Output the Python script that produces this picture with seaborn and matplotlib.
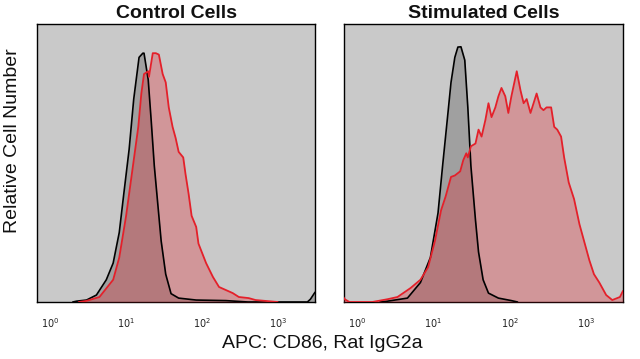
import numpy as np
import pandas as pd
import matplotlib
matplotlib.use("Agg")
import matplotlib.pyplot as plt
import seaborn as sns
from matplotlib.ticker import FixedLocator, FixedFormatter, NullLocator

# ---------------- data (log10 intensity, relative count) ----------------
ctrl_iso_log = [0.30, 0.35, 0.48, 0.61, 0.74, 0.83, 0.91, 0.97, 1.04, 1.10, 1.17, 1.22, 1.235,
                1.29, 1.33, 1.37, 1.42, 1.46, 1.52, 1.59, 1.69, 1.92, 2.31, 2.60, 3.38, 3.42, 3.48]
ctrl_iso_val = [0.0, 0.003, 0.007, 0.025, 0.08, 0.14, 0.25, 0.39, 0.55, 0.73, 0.88, 0.895, 0.895,
                0.80, 0.65, 0.49, 0.34, 0.22, 0.10, 0.03, 0.014, 0.007, 0.005, 0.0, 0.0, 0.01, 0.035]

ctrl_ab_log = [0.38, 0.48, 0.65, 0.83, 0.91, 1.00, 1.09, 1.16, 1.20, 1.235, 1.29, 1.30, 1.35, 1.39,
               1.43, 1.48, 1.52, 1.56, 1.61, 1.65, 1.69, 1.75, 1.78, 1.82, 1.86, 1.92, 1.95,
               2.05, 2.14, 2.22, 2.31, 2.40, 2.48, 2.61, 2.70, 2.99]
ctrl_ab_val = [0.0, 0.004, 0.018, 0.08, 0.16, 0.31, 0.49, 0.63, 0.75, 0.82, 0.83, 0.81, 0.895, 0.895,
               0.89, 0.82, 0.79, 0.70, 0.63, 0.59, 0.54, 0.52, 0.46, 0.39, 0.31, 0.27, 0.21,
               0.14, 0.09, 0.054, 0.043, 0.032, 0.018, 0.014, 0.007, 0.0]

stim_iso_log = [0.30, 0.40, 0.66, 0.83, 0.96, 1.06, 1.12, 1.19, 1.23, 1.28, 1.32, 1.36, 1.41,
                1.45, 1.49, 1.55, 1.59, 1.65, 1.72, 1.85, 2.02, 2.10]
stim_iso_val = [0.0, 0.003, 0.014, 0.07, 0.16, 0.32, 0.49, 0.68, 0.79, 0.88, 0.917, 0.918, 0.87,
                0.70, 0.49, 0.295, 0.18, 0.08, 0.032, 0.014, 0.005, 0.0]

stim_ab_log = [-0.21, -0.16, -0.10, 0.20, 0.40, 0.53, 0.70, 0.83, 0.93, 1.02, 1.10, 1.16, 1.23, 1.28,
               1.35, 1.39, 1.43, 1.45, 1.49, 1.55, 1.59, 1.63, 1.68, 1.72, 1.76, 1.81, 1.85,
               1.89, 1.94, 1.98, 2.02, 2.09, 2.14, 2.18, 2.22, 2.27, 2.31, 2.35, 2.40, 2.44,
               2.48, 2.54, 2.58, 2.62, 2.67, 2.71, 2.77, 2.84, 2.91, 2.97, 3.04, 3.10, 3.17,
               3.26, 3.34, 3.44, 3.48]
stim_ab_val = [0.03, 0.01, 0.0, 0.0, 0.01, 0.018, 0.05, 0.08, 0.125, 0.22, 0.33, 0.38, 0.45, 0.455,
               0.47, 0.51, 0.535, 0.52, 0.56, 0.57, 0.62, 0.595, 0.655, 0.715, 0.665, 0.70, 0.74,
               0.77, 0.74, 0.68, 0.74, 0.83, 0.76, 0.715, 0.73, 0.68, 0.715, 0.75, 0.70, 0.69,
               0.70, 0.70, 0.63, 0.62, 0.595, 0.52, 0.43, 0.37, 0.28, 0.22, 0.15, 0.10, 0.07,
               0.025, 0.007, 0.018, 0.04]

panel_titles = ["Control Cells", "Stimulated Cells"]
tick_values = [1, 10, 100, 1000]
tick_labels = [r"$10^{0}$", r"$10^{1}$", r"$10^{2}$", r"$10^{3}$"]
x_label = "APC: CD86, Rat IgG2a"
y_label = "Relative Cell Number"

# ---------------- figure ----------------
sns.set_theme(style="white")
plt.rcParams["font.family"] = ["Liberation Sans", "DejaVu Sans"]

fig = plt.figure(figsize=(6.4, 3.59), dpi=100)
W, H = 640, 359
axes = [
    fig.add_axes([37 / W, 1 - 302 / H, (315 - 37) / W, (302 - 24) / H]),
    fig.add_axes([344 / W, 1 - 302 / H, (623 - 344) / W, (302 - 24) / H]),
]

panels = [
    (ctrl_iso_log, ctrl_iso_val, ctrl_ab_log, ctrl_ab_val),
    (stim_iso_log, stim_iso_val, stim_ab_log, stim_ab_val),
]

bg = "#c9c9c9"
red = "#e4202a"

for ax, (il, iv, al, av), title in zip(axes, panels, panel_titles):
    ax.set_facecolor(bg)
    iso = pd.DataFrame({"x": 10 ** np.array(il), "y": iv})
    ab = pd.DataFrame({"x": 10 ** np.array(al), "y": av})

    ax.fill_between(iso["x"], iso["y"], color="black", alpha=0.2, lw=0, zorder=2)
    ax.fill_between(ab["x"], ab["y"], color=red, alpha=0.30, lw=0, zorder=3)
    sns.lineplot(data=iso, x="x", y="y", ax=ax, color="black", lw=1.2, sort=False,
                 estimator=None, zorder=4)
    sns.lineplot(data=ab, x="x", y="y", ax=ax, color=red, lw=1.3, sort=False,
                 estimator=None, zorder=5)

    ax.set_xscale("log")
    ax.set_xlim(10 ** -0.17, 10 ** 3.48)
    ax.set_ylim(0, 1)
    ax.xaxis.set_major_locator(FixedLocator(tick_values))
    ax.xaxis.set_major_formatter(FixedFormatter(tick_labels))
    ax.xaxis.set_minor_locator(NullLocator())
    ax.set_yticks([])
    ax.tick_params(axis="x", length=0, pad=10, labelsize=7, labelcolor="#222222")
    ax.set_xlabel("")
    ax.set_ylabel("")
    for s in ax.spines.values():
        s.set_visible(True)
        s.set_color("black")
        s.set_linewidth(1.0)
    ax.set_title(title, fontsize=14, fontweight="bold", pad=4, color="#111111")

fig.text(322 / W, 1 - 344 / H, x_label, ha="center", va="center", fontsize=14, color="#111111")
fig.text(13 / W, 1 - 141 / H, y_label, ha="center", va="center", rotation=90, fontsize=14,
         color="#111111")

fig.savefig("out.png", dpi=100, facecolor="white")
